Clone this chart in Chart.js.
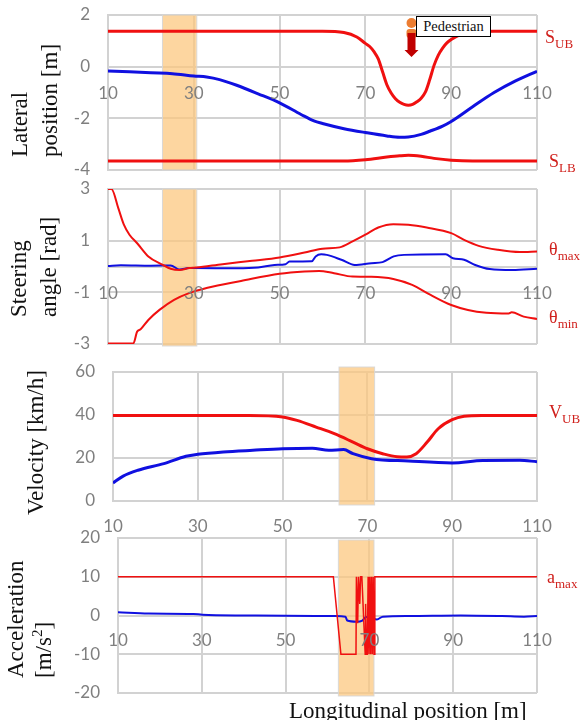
<!DOCTYPE html>
<html>
<head>
<meta charset="utf-8">
<script src="https://cdn.jsdelivr.net/npm/chart.js@4/dist/chart.umd.min.js"></script>
<style>
  html, body { margin: 0; padding: 0; background: #fff; }
  #page { position: relative; width: 581px; height: 720px; overflow: hidden; }
  canvas { position: absolute; left: 0; }
  .ytitle, .xtitle, .side, #pedBox { position: absolute; white-space: nowrap; }
  .ytitle, .xtitle { font-family: "Liberation Serif", serif; font-size: 23px; line-height: 28px; color: #111; }
  .ytitle { transform: rotate(-90deg); transform-origin: 0 0; }
  .side { font-family: "Liberation Serif", serif; font-size: 18px; line-height: 20px; color: #d0201c; }
  .side sub { font-size: 13px; line-height: 0; }
  #pedBox { left: 416px; top: 16px; width: 73px; height: 19px; border: 1.5px solid #000; background: #fff;
    font-family: "Liberation Serif", serif; font-size: 14.5px; line-height: 19px; text-align: center; color: #111; }
  #pedIcon { position: absolute; left: 400px; top: 15px; }
</style>
</head>
<body>
<div id="page">
  <canvas id="lateralChart"></canvas>
  <canvas id="steeringChart"></canvas>
  <canvas id="velocityChart"></canvas>
  <canvas id="accelChart"></canvas>

  <svg id="pedIcon" width="24" height="44">
    <circle cx="11.5" cy="8" r="5" fill="#ed7d31"/>
    <rect x="6.5" y="14" width="10" height="9" rx="3" fill="#ed7d31"/>
    <polygon points="7.5,18 15.5,18 15.5,35 18.5,35 11.5,42 4.5,35 7.5,35" fill="#c00000"/>
  </svg>
  <div id="pedBox">Pedestrian</div>

  <div class="ytitle" style="left:6px;top:157px">Lateral</div>
  <div class="ytitle" style="left:36px;top:157px">position [m]</div>
  <div class="ytitle" style="left:5px;top:317px">Steering</div>
  <div class="ytitle" style="left:35px;top:317px">angle [rad]</div>
  <div class="ytitle" style="left:22px;top:515px">Velocity [km/h]</div>
  <div class="ytitle" style="left:2px;top:678px">Acceleration</div>
  <div class="ytitle" style="left:30px;top:678px">[m/s<sup style="font-size:15px;line-height:0">2</sup>]</div>
  <div class="xtitle" style="left:289px;top:697px">Longitudinal position [m]</div>

  <div class="side" style="left:545px;top:27px">S<sub>UB</sub></div>
  <div class="side" style="left:549px;top:151px">S<sub>LB</sub></div>
  <div class="side" style="left:549px;top:239px">θ<sub>max</sub></div>
  <div class="side" style="left:549px;top:307px">θ<sub>min</sub></div>
  <div class="side" style="left:549px;top:402px">V<sub>UB</sub></div>
  <div class="side" style="left:547px;top:567px">a<sub>max</sub></div>
</div>

<script>
// Lateral position
const subX = [10, 30, 50, 60, 65, 68, 70, 71, 72, 73, 74, 75, 76, 77, 78, 79, 80, 81, 82, 83, 84, 85, 86, 87, 88, 89, 90, 92, 94, 96, 100, 110];
const subY = [1.37, 1.37, 1.37, 1.37, 1.32, 1.15, 0.9, 0.78, 0.58, 0.3, -0.2, -0.7, -1.02, -1.24, -1.38, -1.46, -1.49, -1.46, -1.36, -1.22, -0.98, -0.5, 0.05, 0.45, 0.72, 0.92, 1.05, 1.23, 1.32, 1.36, 1.37, 1.37];
const slbX = [10, 40, 65, 70, 75, 78, 80, 83, 86, 90, 95, 110];
const slbY = [-3.65, -3.65, -3.65, -3.6, -3.5, -3.45, -3.43, -3.47, -3.55, -3.62, -3.65, -3.65];
const lateralX = [10, 15, 20, 25, 30, 33, 36, 40, 45, 50, 55, 58, 60, 65, 70, 75, 78, 80, 83, 85, 88, 90, 95, 100, 105, 110];
const lateralY = [-0.17, -0.2, -0.24, -0.27, -0.36, -0.4, -0.5, -0.72, -1.05, -1.4, -1.85, -2.1, -2.2, -2.4, -2.55, -2.68, -2.73, -2.72, -2.62, -2.5, -2.3, -2.12, -1.55, -1.0, -0.55, -0.18];

// Steering angle
const thetaMaxX = [10, 10.8, 12.4, 13.7, 15, 16.8, 19.4, 22.8, 24.6, 26.7, 28.9, 30.6, 36.7, 43.6, 50, 55.8, 60, 64, 67, 70, 73, 76.5, 80, 84.3, 90, 93, 96.4, 100.8, 106, 110];
const thetaMaxY = [3, 3, 2.26, 1.62, 1.23, 0.9, 0.39, 0.06, -0.09, -0.14, -0.06, -0.04, 0.09, 0.22, 0.35, 0.54, 0.69, 0.74, 0.97, 1.23, 1.51, 1.64, 1.62, 1.51, 1.29, 1.03, 0.8, 0.65, 0.56, 0.58];
const thetaMinX = [10, 15.9, 16.8, 17.6, 19.4, 22, 25.4, 28.9, 33.2, 41, 50, 55.8, 59.2, 62.7, 67, 71.4, 76.5, 80.9, 85.2, 90, 93.9, 98.2, 103.4, 104.1, 106.9, 110];
const thetaMinY = [-2.98, -2.98, -2.52, -2.43, -2.07, -1.68, -1.29, -1.03, -0.82, -0.56, -0.28, -0.19, -0.17, -0.26, -0.39, -0.4, -0.48, -0.71, -1.1, -1.49, -1.68, -1.79, -1.82, -1.77, -1.94, -2.03];
const steerX = [10, 13, 20, 24.6, 26.7, 28.9, 30, 40, 45, 48.8, 51.4, 52.3, 57.5, 58.4, 59.7, 61, 64.4, 67.5, 71.4, 74, 76.6, 79, 88.7, 90.4, 93, 95.6, 99, 104.3, 110];
const steerY = [0.02, 0.05, 0.03, 0.04, -0.12, -0.06, -0.06, -0.07, -0.04, 0.06, 0.09, 0.19, 0.2, 0.39, 0.47, 0.45, 0.26, 0.06, 0.13, 0.17, 0.39, 0.45, 0.47, 0.32, 0.26, 0.06, -0.1, -0.14, -0.09];

// Velocity
const vubX = [10, 30, 42, 50, 53.4, 57.9, 62.2, 66.6, 70, 73.6, 77, 79.3, 81.5, 84.1, 86.7, 90, 92.8, 97, 110];
const vubY = [39.8, 39.8, 39.8, 39.1, 37.5, 34.4, 31.3, 27.4, 24.3, 22, 20.6, 20.5, 22, 27.4, 33.6, 37.8, 39.4, 39.8, 39.8];
const velocityX = [10, 12.4, 15.9, 22, 27.2, 30, 36, 43, 50, 57, 60.9, 64.4, 66.6, 71, 79.7, 90, 97.2, 105.9, 110];
const velocityY = [8.4, 11.6, 14.3, 17.4, 20.8, 21.7, 22.8, 23.6, 24.3, 24.5, 23.6, 23.9, 22, 19.7, 18.6, 17.7, 18.8, 18.9, 18.3];

// Acceleration
const amaxX = [10, 61.4, 63.2, 66.8, 66.9, 67.2, 67.4, 67.7, 67.9, 68.2, 69, 69.1, 69.3, 69.5, 69.7, 69.9, 70.1, 70.3, 70.5, 70.7, 70.9, 71.1, 71.3, 110];
const amaxY = [10, 10, -10, -10, 10, -2, 10, 3, 10, 10, -10, 3, -10, -10, 10, -10, 10, -10, 10, -10, 10, -10, 10, 10];
const accelX = [10, 17.3, 28, 30.1, 41, 57, 62, 64.3, 64.7, 67, 68.3, 69.2, 70.5, 71.8, 73.2, 79.4, 91.8, 101.6, 106.9, 110];
const accelY = [0.86, 0.5, 0.4, 0.2, 0, -0.15, -0.15, -0.3, -1.3, -1.6, -1.3, -0.4, -0.7, -1, -0.3, -0.15, 0, -0.15, -0.3, -0.15];

// Shaded ranges (longitudinal position)
const bandEarly = [22.7, 30.7];
const bandLateVelocity = [63.3, 71.7];
const bandLateAccel = [62.6, 71.1];

const RED = '#f01010';
const BLUE = '#1010e0';
const GRID = '#d2d2d2';
const TICK = '#7f7f7f';

function points(xs, ys) {
    return xs.map((x, i) => ({ x: x, y: ys[i] }));
}

function line(xs, ys, color, width, straight) {
    return {
        data: points(xs, ys),
        borderColor: color,
        borderWidth: width,
        pointRadius: 0,
        cubicInterpolationMode: straight ? 'default' : 'monotone'
    };
}

// orange range behind the lines, can stick out of the plot a little
const bandPlugin = {
    id: 'band',
    beforeDatasetsDraw(chart, args, opts) {
        const { ctx, chartArea, scales } = chart;
        const x0 = scales.x.getPixelForValue(opts.range[0]);
        const x1 = scales.x.getPixelForValue(opts.range[1]);
        const top = chartArea.top - (opts.above || 0);
        const bottom = chartArea.bottom + (opts.below || 0);
        ctx.save();
        ctx.fillStyle = 'rgba(252, 198, 124, 0.72)';
        ctx.fillRect(x0, top, x1 - x0, bottom - top);
        ctx.strokeStyle = 'rgba(215, 215, 215, 0.9)';
        ctx.lineWidth = 1;
        ctx.strokeRect(x0, top, x1 - x0, bottom - top);
        ctx.restore();
    }
};

function makeChart(id, cfg) {
    const canvas = document.getElementById(id);
    canvas.width = 581;
    canvas.height = cfg.canvasBottom - cfg.canvasTop;
    canvas.style.top = cfg.canvasTop + 'px';
    canvas.style.width = '581px';
    canvas.style.height = canvas.height + 'px';

    return new Chart(canvas, {
        type: 'line',
        data: { datasets: cfg.datasets },
        plugins: [bandPlugin],
        options: {
            responsive: false,
            animation: false,
            layout: {
                padding: {
                    left: 0,
                    right: 581 - cfg.right,
                    top: cfg.top - cfg.canvasTop,
                    bottom: cfg.canvasBottom - cfg.bottom
                }
            },
            plugins: {
                legend: { display: false },
                tooltip: { enabled: false },
                band: cfg.band
            },
            scales: {
                x: {
                    type: 'linear',
                    position: { y: 0 },
                    min: 10,
                    max: 110,
                    afterFit(scale) {
                        scale.height = 0;
                        scale.paddingLeft = 0;
                        scale.paddingRight = 0;
                    },
                    ticks: {
                        stepSize: 20,
                        color: TICK,
                        padding: cfg.xPad,
                        maxRotation: 0,
                        font: { family: 'Lato', size: 17 },
                        z: 1
                    },
                    grid: { color: GRID, lineWidth: 2, drawTicks: false },
                    border: { color: GRID, width: 2 }
                },
                y: {
                    min: cfg.yMin,
                    max: cfg.yMax,
                    // y labels would otherwise push the plot in from top and bottom
                    afterFit(scale) {
                        scale.width = cfg.left;
                        scale.paddingTop = 0;
                        scale.paddingBottom = 0;
                    },
                    ticks: {
                        stepSize: cfg.yStep,
                        color: TICK,
                        padding: 18,
                        font: { family: 'Lato', size: 17 }
                    },
                    grid: { color: GRID, lineWidth: 2, drawTicks: false },
                    border: { color: GRID, width: 2 }
                }
            }
        }
    });
}

makeChart('lateralChart', {
    canvasTop: 0, canvasBottom: 182,
    left: 108, right: 537, top: 15, bottom: 170,
    yMin: -4, yMax: 2, yStep: 2, xPad: 17,
    band: { range: bandEarly },
    datasets: [
        line(subX, subY, RED, 3),
        line(slbX, slbY, RED, 3),
        line(lateralX, lateralY, BLUE, 3)
    ]
});

makeChart('steeringChart', {
    canvasTop: 178, canvasBottom: 356,
    left: 108, right: 537, top: 189, bottom: 344,
    yMin: -3, yMax: 3, yStep: 2, xPad: 17,
    band: { range: bandEarly, below: 2 },
    datasets: [
        line(thetaMaxX, thetaMaxY, RED, 2),
        line(thetaMinX, thetaMinY, RED, 2),
        line(steerX, steerY, BLUE, 2)
    ]
});

makeChart('velocityChart', {
    canvasTop: 360, canvasBottom: 536,
    left: 113, right: 537, top: 372, bottom: 501,
    yMin: 0, yMax: 60, yStep: 20, xPad: 15,
    band: { range: bandLateVelocity, above: 5, below: 4 },
    datasets: [
        line(vubX, vubY, RED, 3),
        line(velocityX, velocityY, BLUE, 3)
    ]
});

makeChart('accelChart', {
    canvasTop: 526, canvasBottom: 704,
    left: 118, right: 537, top: 538, bottom: 693,
    yMin: -20, yMax: 20, yStep: 10, xPad: 15,
    band: { range: bandLateAccel, above: -2, below: 3 },
    datasets: [
        line(amaxX, amaxY, RED, 1.5, true),
        line(accelX, accelY, BLUE, 2)
    ]
});
</script>
</body>
</html>
